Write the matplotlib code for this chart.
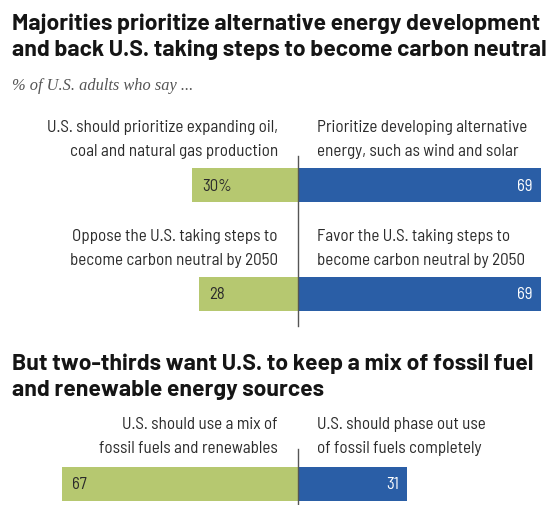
import matplotlib
matplotlib.use("Agg")
import matplotlib.pyplot as plt

# survey answers, % of U.S. adults
left_labels = ["U.S. should prioritize expanding oil,\ncoal and natural gas production",
               "Oppose the U.S. taking steps to\nbecome carbon neutral by 2050",
               "U.S. should use a mix of\nfossil fuels and renewables"]
right_labels = ["Prioritize developing alternative\nenergy, such as wind and solar",
                "Favor the U.S. taking steps to\nbecome carbon neutral by 2050",
                "U.S. should phase out use\nof fossil fuels completely"]
left_values = [30, 28, 67]
right_values = [69, 69, 31]
left_text = ["30%", "28", "67"]
right_text = ["69", "69", "31"]

GREEN = "#b6c870"
BLUE = "#2a5ea6"
FONT = ["Barlow Semi Condensed", "DejaVu Sans"]
TITLE_FONT = ["Barlow", "DejaVu Sans"]

W, H = 550, 506
fig = plt.figure(figsize=(W / 100, H / 100), dpi=100)
ax = fig.add_axes([0, 0, 1, 1])
# x in percent (0 = divider), y in pixel rows from the top
px = 3.52
ax.set_xlim(-298 / px, (W - 298) / px)
ax.set_ylim(H, 0)
ax.axis("off")

bar_y = [186, 294.5, 484.5]
bar_h = 34
label_y = [139, 248, 437]

ax.barh(bar_y, [-v for v in left_values], height=bar_h, color=GREEN)
ax.barh(bar_y, right_values, height=bar_h, color=BLUE)

for i in range(3):
    ax.text(-5.7, label_y[i], left_labels[i], ha="right", va="center",
            fontsize=12.3, family=FONT, color="#2b2b2b", linespacing=1.75)
    ax.text(5.4, label_y[i], right_labels[i], ha="left", va="center",
            fontsize=12.3, family=FONT, color="#2b2b2b", linespacing=1.75)
    ax.text(-left_values[i] + 2.8, bar_y[i], left_text[i], ha="left", va="center",
            fontsize=12, family=FONT, color="#2b2b2b")
    ax.text(right_values[i] - 2.3, bar_y[i], right_text[i], ha="right", va="center",
            fontsize=12, family=FONT, color="white")

# divider lines
ax.plot([0, 0], [157, 327], color="#555555", lw=1)
ax.plot([0, 0], [450, H], color="#555555", lw=1)

fig.text(12 / W, 1 - 37 / H, "Majorities prioritize alternative energy development\n"
         "and back U.S. taking steps to become carbon neutral",
         ha="left", va="center", fontsize=16.5, fontweight="bold", family=TITLE_FONT,
         color="#151515", linespacing=1.35)
fig.text(12 / W, 1 - 86 / H, "% of U.S. adults who say ...", ha="left", va="center",
         fontsize=11.8, style="italic", family=["Liberation Serif", "DejaVu Serif"],
         color="#555555")
fig.text(12 / W, 1 - 377 / H, "But two-thirds want U.S. to keep a mix of fossil fuel\n"
         "and renewable energy sources",
         ha="left", va="center", fontsize=16.5, fontweight="bold", family=TITLE_FONT,
         color="#151515", linespacing=1.35)

fig.savefig("out.png", dpi=100)
